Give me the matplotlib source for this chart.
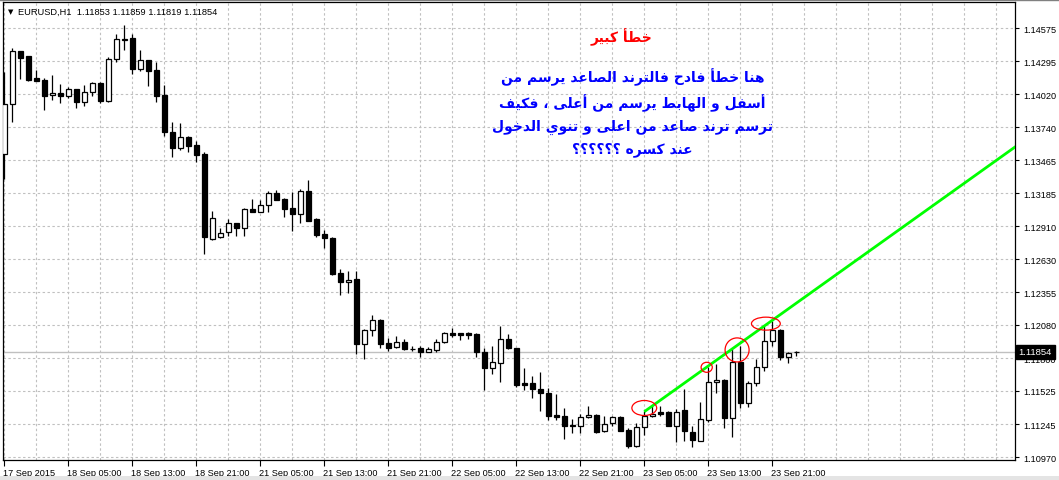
import matplotlib
matplotlib.use('Agg')
import matplotlib.pyplot as plt
import matplotlib.transforms as mtrans
from matplotlib.patches import Ellipse, Rectangle
import numpy as np

# EURUSD H1, one candle per hour starting 17 Sep 2015 21:00
opens = [1.13514, 1.13934, 1.14380, 1.14338, 1.14155, 1.14138, 1.14010, 1.14027, 1.14001, 1.14060,
         1.13951, 1.14035, 1.14113, 1.13959, 1.14312, 1.14477, 1.14491, 1.14233, 1.14304, 1.14222,
         1.14012, 1.13699, 1.13570, 1.13659, 1.13592, 1.13517, 1.12802, 1.12815, 1.12859, 1.12934,
         1.12897, 1.13054, 1.13032, 1.13085, 1.13189, 1.13138, 1.13065, 1.13012, 1.13206, 1.12970,
         1.12844, 1.12808, 1.12517, 1.12438, 1.12466, 1.11920, 1.12038, 1.12122, 1.11926, 1.11892,
         1.11934, 1.11880, 1.11886, 1.11855, 1.11872, 1.11934, 1.12010, 1.12010, 1.12010, 1.12004,
         1.11850, 1.11716, 1.11758, 1.11962, 1.11886, 1.11592, 1.11592, 1.11539, 1.11508, 1.11323,
         1.11312, 1.11239, 1.11233, 1.11304, 1.11323, 1.11186, 1.11254, 1.11304, 1.11197, 1.11060,
         1.11220, 1.11312, 1.11346, 1.11349, 1.11233, 1.11363, 1.11183, 1.11107, 1.11284, 1.11598,
         1.11617, 1.11301, 1.11766, 1.11427, 1.11590, 1.11724, 1.11943, 1.12038, 1.11808, 1.11853]
highs = [1.14203, 1.14405, 1.14385, 1.14340, 1.14222, 1.14155, 1.14180, 1.14105, 1.14077, 1.14063,
         1.14096, 1.14124, 1.14124, 1.14332, 1.14525, 1.14601, 1.14525, 1.14390, 1.14306, 1.14292,
         1.14096, 1.13785, 1.13777, 1.13670, 1.13626, 1.13531, 1.13038, 1.12892, 1.12970, 1.12937,
         1.13065, 1.13138, 1.13132, 1.13208, 1.13214, 1.13143, 1.13195, 1.13220, 1.13298, 1.12976,
         1.12878, 1.12815, 1.12550, 1.12531, 1.12531, 1.12042, 1.12164, 1.12126, 1.11968, 1.11985,
         1.11962, 1.11901, 1.11906, 1.11892, 1.11962, 1.12018, 1.12054, 1.12012, 1.12018, 1.12010,
         1.11886, 1.11901, 1.12071, 1.12004, 1.11890, 1.11716, 1.11654, 1.11687, 1.11550, 1.11500,
         1.11380, 1.11290, 1.11332, 1.11402, 1.11332, 1.11312, 1.11317, 1.11312, 1.11214, 1.11254,
         1.11359, 1.11402, 1.11396, 1.11354, 1.11374, 1.11542, 1.11233, 1.11430, 1.11724, 1.11752,
         1.11626, 1.11878, 1.11906, 1.11612, 1.11794, 1.12074, 1.12116, 1.12042, 1.11855, 1.11859]
lows = [1.13306, 1.13788, 1.14147, 1.14133, 1.14130, 1.13889, 1.13973, 1.13948, 1.13990, 1.13901,
        1.13922, 1.14006, 1.13948, 1.13951, 1.14287, 1.14393, 1.14191, 1.14217, 1.14091, 1.13956,
        1.13670, 1.13494, 1.13553, 1.13536, 1.13452, 1.12676, 1.12796, 1.12808, 1.12825, 1.12825,
        1.12830, 1.13027, 1.13027, 1.13027, 1.13130, 1.12990, 1.12872, 1.12939, 1.12954, 1.12817,
        1.12727, 1.12500, 1.12334, 1.12346, 1.11836, 1.11794, 1.11990, 1.11886, 1.11859, 1.11886,
        1.11872, 1.11859, 1.11811, 1.11853, 1.11855, 1.11926, 1.11976, 1.11954, 1.11962, 1.11813,
        1.11533, 1.11668, 1.11603, 1.11878, 1.11561, 1.11536, 1.11468, 1.11359, 1.11284, 1.11284,
        1.11119, 1.11170, 1.11175, 1.11298, 1.11175, 1.11178, 1.11228, 1.11189, 1.11043, 1.11057,
        1.11155, 1.11304, 1.11312, 1.11228, 1.11099, 1.11102, 1.11057, 1.11105, 1.11262, 1.11508,
        1.11214, 1.11141, 1.11380, 1.11388, 1.11570, 1.11696, 1.11906, 1.11788, 1.11760, 1.11819]
closes = [1.13934, 1.14380, 1.14326, 1.14141, 1.14133, 1.14006, 1.14027, 1.14001, 1.14063, 1.13951,
          1.14035, 1.14111, 1.13959, 1.14312, 1.14480, 1.14483, 1.14233, 1.14304, 1.14217, 1.14006,
          1.13699, 1.13570, 1.13659, 1.13586, 1.13511, 1.12817, 1.12976, 1.12853, 1.12934, 1.12897,
          1.13054, 1.13032, 1.13085, 1.13186, 1.13132, 1.13054, 1.13012, 1.13206, 1.12956, 1.12833,
          1.12808, 1.12508, 1.12438, 1.12460, 1.11920, 1.12038, 1.12122, 1.11920, 1.11886, 1.11934,
          1.11878, 1.11875, 1.11855, 1.11875, 1.11934, 1.12010, 1.11998, 1.11998, 1.11998, 1.11850,
          1.11716, 1.11766, 1.11962, 1.11884, 1.11578, 1.11578, 1.11539, 1.11506, 1.11317, 1.11309,
          1.11228, 1.11228, 1.11304, 1.11321, 1.11183, 1.11248, 1.11304, 1.11191, 1.11065, 1.11220,
          1.11312, 1.11332, 1.11334, 1.11233, 1.11351, 1.11186, 1.11116, 1.11290, 1.11598, 1.11617,
          1.11301, 1.11766, 1.11427, 1.11590, 1.11724, 1.11943, 1.12038, 1.11808, 1.11842, 1.11854]

bid = 1.11854
price_ticks = [1.10970, 1.11245, 1.11525, 1.11800, 1.12080, 1.12355, 1.12630,
               1.12910, 1.13185, 1.13465, 1.13740, 1.14020, 1.14295, 1.14575]
time_tick_bars = [0, 8, 16, 24, 32, 40, 48, 56, 64, 72, 80, 88, 96]
time_labels = ['17 Sep 2015', '18 Sep 05:00', '18 Sep 13:00', '18 Sep 21:00', '21 Sep 05:00',
               '21 Sep 13:00', '21 Sep 21:00', '22 Sep 05:00', '22 Sep 13:00', '22 Sep 21:00',
               '23 Sep 05:00', '23 Sep 13:00', '23 Sep 21:00']

# hand drawn trend line (two anchor points, extended to the right)
trend_bars = [80, 97]
trend_prices = [1.11351, 1.12167]

# red circles: centre bar, centre price, width (bars), height (price)
circle_bars = [80.0, 87.8, 91.6, 95.2]
circle_prices = [1.11382, 1.11724, 1.11870, 1.12091]
circle_w = [3.1, 1.4, 3.0, 3.6]
circle_h = [0.00126, 0.00084, 0.00202, 0.00109]

title_ar = 'خطأ كبير'
note_ar = ['هنا خطأ فادح فالترند الصاعد يرسم من',
           'أسفل و الهابط يرسم من أعلى ، فكيف',
           'ترسم ترند صاعد من اعلى و تنوي الدخول',
           'عند كسره ؟؟؟؟؟؟']
note_prices = [1.14172, 1.13954, 1.13752, 1.13559]

# minimal arabic shaping (presentation forms) + right-to-left order
AR_BASE = {'ا': 0xFE8D, 'أ': 0xFE83, 'ب': 0xFE8F, 'ة': 0xFE93, 'ت': 0xFE95, 'ث': 0xFE99,
           'ج': 0xFE9D, 'ح': 0xFEA1, 'خ': 0xFEA5, 'د': 0xFEA9, 'ذ': 0xFEAB, 'ر': 0xFEAD,
           'ز': 0xFEAF, 'س': 0xFEB1, 'ش': 0xFEB5, 'ص': 0xFEB9, 'ض': 0xFEBD, 'ط': 0xFEC1,
           'ظ': 0xFEC5, 'ع': 0xFEC9, 'غ': 0xFECD, 'ف': 0xFED1, 'ق': 0xFED5, 'ك': 0xFED9,
           'ل': 0xFEDD, 'م': 0xFEE1, 'ن': 0xFEE5, 'ه': 0xFEE9, 'و': 0xFEED, 'ى': 0xFEEF,
           'ي': 0xFEF1}
RIGHT_ONLY = set('اأدذرزوىة')


def shape(s):
    out = []
    for i, c in enumerate(s):
        if c not in AR_BASE:
            out.append(c)
            continue
        prev = s[i - 1] if i > 0 else ''
        nxt = s[i + 1] if i + 1 < len(s) else ''
        jp = prev in AR_BASE and prev not in RIGHT_ONLY
        jn = c not in RIGHT_ONLY and nxt in AR_BASE
        form = {(False, False): 0, (True, False): 1, (False, True): 2, (True, True): 3}[(jp, jn)]
        out.append(chr(AR_BASE[c] + form))
    return ''.join(reversed(out))


W, H = 1059, 481
fig = plt.figure(figsize=(W / 100, H / 100), dpi=100)
ax = fig.add_axes([3 / W, 20 / H, 1012 / W, 458 / H])

x = np.arange(len(opens))
o = np.array(opens)
c = np.array(closes)
up = c >= o

ax.vlines(x, lows, highs, color='black', lw=0.9, zorder=3)
ax.bar(x, np.abs(c - o), bottom=np.minimum(o, c), width=0.6,
       color=np.where(up, 'white', 'black'), edgecolor='black', linewidth=0.9, zorder=4)

ax.axhline(bid, color='#c0c0c0', lw=1, zorder=2)

# trend line as a ray
slope = (trend_prices[1] - trend_prices[0]) / (trend_bars[1] - trend_bars[0])
x_end = 130
ax.plot([trend_bars[0], x_end], [trend_prices[0], trend_prices[0] + slope * (x_end - trend_bars[0])],
        color='#00ff00', lw=2, zorder=5, solid_capstyle='butt')

for cb, cp, cw, ch in zip(circle_bars, circle_prices, circle_w, circle_h):
    ax.add_patch(Ellipse((cb, cp), cw, ch, fill=False, edgecolor='red', lw=0.9, zorder=6))

ax.text(77.2, 1.14508, shape(title_ar), color='red', fontsize=10, fontweight='bold',
        family='DejaVu Sans', ha='center', va='center', zorder=7)
for line, yp in zip(note_ar, note_prices):
    ax.text(78.5, yp, shape(line), color='blue', fontsize=10, fontweight='bold',
            family='DejaVu Sans', ha='center', va='center', zorder=7)

ax.set_xlim(-0.16, 126.34)
ax.set_ylim(1.10945, 1.14794)

ax.yaxis.tick_right()
ax.set_yticks(price_ticks)
ax.set_yticklabels(['%.5f' % p for p in price_ticks], fontsize=6.6, family='Liberation Sans')
ax.set_xticks(time_tick_bars)
ax.set_xticklabels(time_labels, fontsize=6.6, family='Liberation Sans', ha='left')
ax.set_xticks(np.arange(0, 127, 4), minor=True)
ax.tick_params(axis='x', which='major', length=4, width=0.8, pad=2, direction='out')
ax.tick_params(axis='x', which='minor', length=0)
ax.tick_params(axis='y', length=3, width=0.8, pad=3, direction='out')
for lbl in ax.get_xticklabels():
    lbl.set_transform(lbl.get_transform() + mtrans.ScaledTranslation(-1 / 100, 0, fig.dpi_scale_trans))

grid_style = dict(color='#c0c0c0', lw=0.8, linestyle=(0, (2.2, 2.2)))
ax.grid(True, axis='y', **grid_style)
ax.grid(True, axis='x', which='both', **grid_style)
ax.set_axisbelow(True)
for sp in ax.spines.values():
    sp.set_linewidth(0.9)
    sp.set_color('black')

ax.annotate('%.5f' % bid, xy=(1, bid), xycoords=('axes fraction', 'data'), xytext=(2.5, 0),
            textcoords='offset points', ha='left', va='center', color='white', fontsize=6.8,
            family='Liberation Sans', annotation_clip=False,
            bbox=dict(boxstyle='square,pad=0.3', facecolor='black', edgecolor='black'))

fig.text(8 / W, 1 - 12 / H, '▼', fontsize=5, family='DejaVu Sans', va='center')
fig.text(18 / W, 1 - 12 / H, 'EURUSD,H1  1.11853 1.11859 1.11819 1.11854', fontsize=6.7,
         family='Liberation Sans', va='center')
fig.add_artist(plt.Line2D([0, 1], [1 - 1 / H, 1 - 1 / H], color='#808080', lw=1))
fig.add_artist(Rectangle((0, 0), 1, 4 / H, transform=fig.transFigure, facecolor='#e4e4e4',
                         edgecolor='none'))

fig.savefig('out.png', dpi=100)
